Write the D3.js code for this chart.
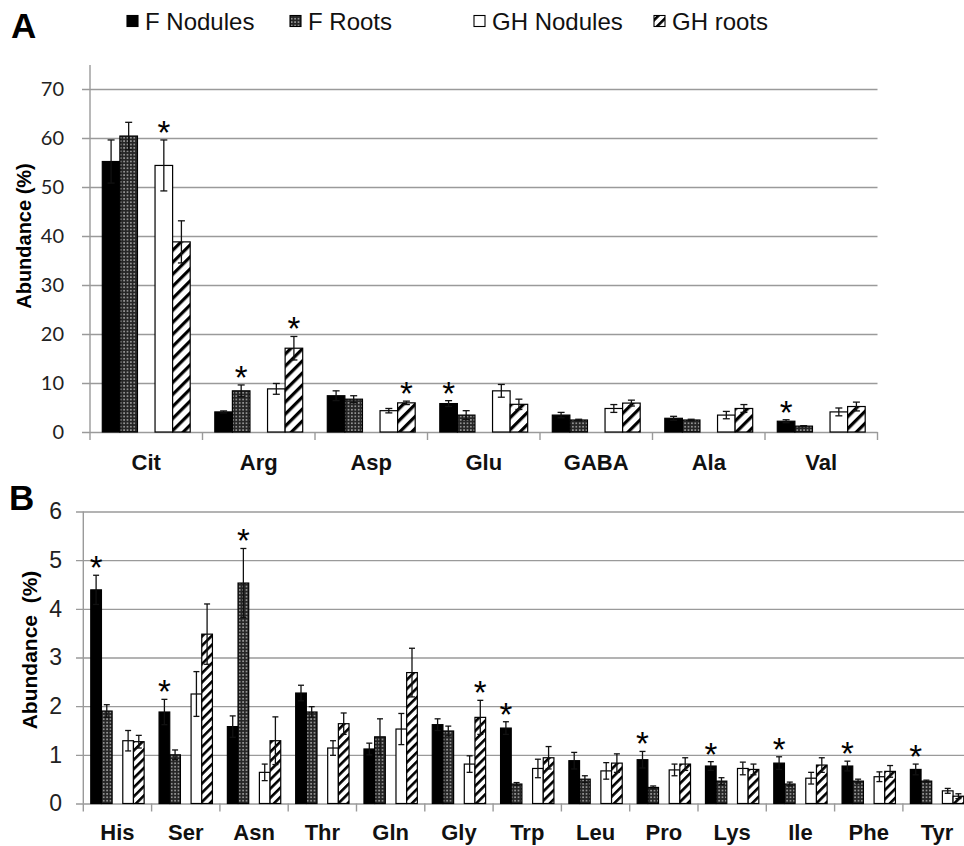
<!DOCTYPE html>
<html>
<head>
<meta charset="utf-8">
<script src="https://cdn.jsdelivr.net/npm/d3@7"></script>
<style>
  body { margin: 0; background: #fff; }
  svg { display: block; }
</style>
</head>
<body>
<div id="chart"></div>
<script>
// panel A - major amino acids
var catsA = ['Cit', 'Arg', 'Asp', 'Glu', 'GABA', 'Ala', 'Val'];
var fnA = [55.2, 4.1, 7.4, 5.8, 3.45, 2.8, 2.2];
var fnAErr = [4.4, 0.2, 1.0, 0.6, 0.55, 0.4, 0.3];
var frA = [60.4, 8.4, 6.7, 3.45, 2.45, 2.45, 1.2];
var frAErr = [2.8, 1.2, 0.7, 0.9, 0.15, 0.15, 0.1];
var ghnA = [54.4, 8.8, 4.35, 8.4, 4.8, 3.45, 4.1];
var ghnAErr = [5.2, 1.1, 0.45, 1.3, 0.8, 0.75, 0.8];
var ghrA = [38.8, 17.1, 5.95, 5.65, 5.9, 4.8, 5.2];
var ghrAErr = [4.3, 2.4, 0.35, 1.05, 0.6, 0.8, 0.9];
var starsA = [['ghn'], ['fr', 'ghr'], ['ghr'], ['fn'], [], [], ['fn']];
var ticksA = [0, 10, 20, 30, 40, 50, 60, 70];

// panel B - minor amino acids
var catsB = ['His', 'Ser', 'Asn', 'Thr', 'Gln', 'Gly', 'Trp', 'Leu', 'Pro', 'Lys', 'Ile', 'Phe', 'Tyr'];
var fnB = [4.39, 1.88, 1.58, 2.27, 1.12, 1.62, 1.55, 0.88, 0.90, 0.77, 0.83, 0.77, 0.70];
var fnBErr = [0.30, 0.26, 0.22, 0.16, 0.12, 0.12, 0.13, 0.17, 0.17, 0.09, 0.13, 0.10, 0.11];
var frB = [1.90, 1.00, 4.53, 1.88, 1.37, 1.49, 0.40, 0.50, 0.33, 0.46, 0.40, 0.46, 0.46];
var frBErr = [0.13, 0.10, 0.71, 0.11, 0.37, 0.10, 0.03, 0.07, 0.03, 0.07, 0.04, 0.04, 0.02];
var ghnB = [1.29, 2.25, 0.64, 1.14, 1.53, 0.81, 0.72, 0.67, 0.69, 0.72, 0.52, 0.55, 0.26];
var ghnBErr = [0.21, 0.46, 0.17, 0.15, 0.32, 0.17, 0.19, 0.17, 0.12, 0.13, 0.12, 0.10, 0.05];
var ghrB = [1.27, 3.48, 1.29, 1.64, 2.69, 1.77, 0.94, 0.83, 0.81, 0.70, 0.79, 0.66, 0.15];
var ghrBErr = [0.13, 0.62, 0.49, 0.22, 0.50, 0.35, 0.23, 0.19, 0.13, 0.11, 0.15, 0.12, 0.05];
var starsB = [['fn'], ['fn'], ['fr'], [], [], ['ghr'], ['fn'], [], ['fn'], ['fn'], ['fn'], ['fn'], ['fn']];
var ticksB = [0, 1, 2, 3, 4, 5, 6];

// series order, with an empty slot between field and greenhouse
var seriesKeys = ['fn', 'fr', 'gap', 'ghn', 'ghr'];
var legendNames = ['F Nodules', 'F Roots', 'GH Nodules', 'GH roots'];

var W = 964, H = 846;
var svg = d3.select('#chart').append('svg').attr('width', W).attr('height', H);

var defs = svg.append('defs');
var dots = defs.append('pattern').attr('id', 'dots').attr('patternUnits', 'userSpaceOnUse')
  .attr('width', 3.4).attr('height', 3.4);
dots.append('rect').attr('width', 3.4).attr('height', 3.4).attr('fill', '#262626');
dots.append('circle').attr('cx', 1.7).attr('cy', 1.7).attr('r', 0.85).attr('fill', '#b5b5b5');

function hatch(id, size, thick) {
  var p = defs.append('pattern').attr('id', id).attr('patternUnits', 'userSpaceOnUse')
    .attr('width', size).attr('height', size).attr('patternTransform', 'rotate(45)');
  p.append('rect').attr('width', size).attr('height', size).attr('fill', '#fff');
  p.append('rect').attr('width', thick).attr('height', size).attr('fill', '#000');
}
hatch('hatchA', 8.5, 3.2);
hatch('hatchB', 6.5, 2.6);

function fillFor(key, panel) {
  if (key == 'fn') return '#000';
  if (key == 'fr') return 'url(#dots)';
  if (key == 'ghn') return '#fff';
  return panel == 'A' ? 'url(#hatchA)' : 'url(#hatchB)';
}

function drawPanel(o) {
  var g = svg.append('g');
  var x0 = d3.scaleBand().domain(o.cats).range([o.left, o.left + o.step * o.cats.length]);
  var x1 = d3.scaleBand().domain(seriesKeys).range([0, x0.bandwidth()]).paddingOuter(0.7);
  var y = d3.scaleLinear().domain([0, o.max]).range([o.bottom, o.top]);

  // gridlines + tick labels
  var yAxis = d3.axisLeft(y).tickValues(o.ticks).tickFormat(d3.format('d'))
    .tickSize(-(o.gridEnd - o.tickStart)).tickPadding(o.tickPad).tickSizeOuter(0);
  var ya = g.append('g').attr('transform', 'translate(' + o.tickStart + ',0)').call(yAxis);
  ya.select('.domain').remove();
  ya.selectAll('line').attr('stroke', '#9a9a9a').attr('stroke-width', 1.4);
  ya.selectAll('text').attr('fill', '#222').style('font-family', o.tickFont).style('font-size', o.tickSizePx + 'px');

  // vertical axis line
  g.append('line').attr('x1', o.left).attr('x2', o.left).attr('y1', o.axisTop).attr('y2', o.bottom)
    .attr('stroke', '#9a9a9a').attr('stroke-width', 1.4);

  // category boundary ticks
  var bounds = o.cats.map(function(c) { return x0(c); }).concat([x0(o.cats[o.cats.length - 1]) + x0.bandwidth()]);
  g.selectAll('.ctick').data(bounds).enter().append('line')
    .attr('x1', (d) => d).attr('x2', (d) => d)
    .attr('y1', o.bottom).attr('y2', o.bottom + 8)
    .attr('stroke', '#9a9a9a').attr('stroke-width', 1.4);

  // category labels
  var xAxis = d3.axisBottom(x0).tickSize(0).tickPadding(o.labelPad);
  var xa = g.append('g').attr('transform', 'translate(0,' + o.bottom + ')').call(xAxis);
  xa.select('.domain').remove();
  xa.selectAll('text').attr('fill', '#111').style('font-family', 'Liberation Sans, Arial, sans-serif')
    .style('font-weight', 'bold').style('font-size', o.labelSize + 'px');

  var rows = [];
  o.cats.forEach(function(c, i) {
    o.series.forEach(function(s) {
      rows.push({cat: c, key: s.key, v: s.vals[i], e: s.errs[i], star: o.stars[i].indexOf(s.key) >= 0});
    });
  });

  var bars = g.selectAll('.bar').data(rows).enter().append('g');
  bars.append('rect')
    .attr('x', (d) => x0(d.cat) + x1(d.key))
    .attr('y', (d) => y(d.v))
    .attr('width', x1.bandwidth())
    .attr('height', (d) => o.bottom - y(d.v))
    .attr('fill', (d) => fillFor(d.key, o.name))
    .attr('stroke', '#000').attr('stroke-width', 1.2);

  var cx = (d) => x0(d.cat) + x1(d.key) + x1.bandwidth() / 2;
  bars.append('line')
    .attr('x1', cx).attr('x2', cx)
    .attr('y1', (d) => y(d.v + d.e)).attr('y2', (d) => y(Math.max(0, d.v - d.e)))
    .attr('stroke', '#111').attr('stroke-width', 1.3);
  [1, -1].forEach(function(sign) {
    bars.append('line')
      .attr('x1', (d) => cx(d) - o.cap).attr('x2', (d) => cx(d) + o.cap)
      .attr('y1', (d) => y(Math.max(0, d.v + sign * d.e))).attr('y2', (d) => y(Math.max(0, d.v + sign * d.e)))
      .attr('stroke', '#111').attr('stroke-width', 1.3);
  });

  g.selectAll('.star').data(rows.filter((d) => d.star)).enter().append('text')
    .attr('x', cx)
    .attr('y', (d) => y(d.v + d.e) + 4)
    .attr('text-anchor', 'middle')
    .style('font-family', 'Liberation Sans, Arial, sans-serif').style('font-size', '33px')
    .text('*');

  // y title
  g.append('text')
    .attr('transform', 'translate(' + o.titleX + ',' + o.titleY + ') rotate(-90)')
    .attr('text-anchor', 'middle')
    .style('font-family', 'Liberation Sans, Arial, sans-serif').style('font-weight', 'bold')
    .style('font-size', o.titleSize + 'px').style('white-space', 'pre')
    .text(o.title);

  // panel letter
  g.append('text').attr('x', o.letterX).attr('y', o.letterY)
    .style('font-family', 'Liberation Sans, Arial, sans-serif').style('font-weight', 'bold')
    .style('font-size', '35px').text(o.name);
}

drawPanel({
  name: 'A', cats: catsA, stars: starsA, ticks: ticksA, max: 70,
  series: [
    {key: 'fn', vals: fnA, errs: fnAErr}, {key: 'fr', vals: frA, errs: frAErr},
    {key: 'ghn', vals: ghnA, errs: ghnAErr}, {key: 'ghr', vals: ghrA, errs: ghrAErr}
  ],
  left: 90, step: 112.5, top: 89, bottom: 432, axisTop: 65, tickStart: 82, gridEnd: 877.5,
  tickPad: 18, tickFont: 'Lato, Noto Sans, sans-serif', tickSizePx: 20,
  labelPad: 22, labelSize: 22, cap: 3.5,
  title: 'Abundance (%)', titleX: 31, titleY: 236, titleSize: 20,
  letterX: 11, letterY: 38
});

drawPanel({
  name: 'B', cats: catsB, stars: starsB, ticks: ticksB, max: 6,
  series: [
    {key: 'fn', vals: fnB, errs: fnBErr}, {key: 'fr', vals: frB, errs: frBErr},
    {key: 'ghn', vals: ghnB, errs: ghnBErr}, {key: 'ghr', vals: ghrB, errs: ghrBErr}
  ],
  left: 83.3, step: 68.3, top: 511.5, bottom: 803.5, axisTop: 511.5, tickStart: 76, gridEnd: 964,
  tickPad: 14, tickFont: 'Liberation Sans, Arial, sans-serif', tickSizePx: 23,
  labelPad: 21, labelSize: 22, cap: 3,
  title: 'Abundance  (%)', titleX: 37, titleY: 650, titleSize: 21,
  letterX: 9, letterY: 510
});

// legend
var legX = [127, 290, 474, 654];
var legFill = ['#000', 'url(#dots)', '#fff', 'url(#hatchB)'];
var leg = svg.selectAll('.leg').data(legendNames).enter().append('g')
  .attr('transform', (d, i) => 'translate(' + legX[i] + ',0)');
leg.append('rect').attr('x', 0).attr('y', 15.5).attr('width', 11).attr('height', 11)
  .attr('fill', (d, i) => legFill[i]).attr('stroke', '#000').attr('stroke-width', 1.1);
leg.append('text').attr('x', 18).attr('y', 30)
  .style('font-family', 'Liberation Sans, Arial, sans-serif').style('font-size', '24px')
  .attr('fill', '#111')
  .text((d) => d);
</script>
</body>
</html>
